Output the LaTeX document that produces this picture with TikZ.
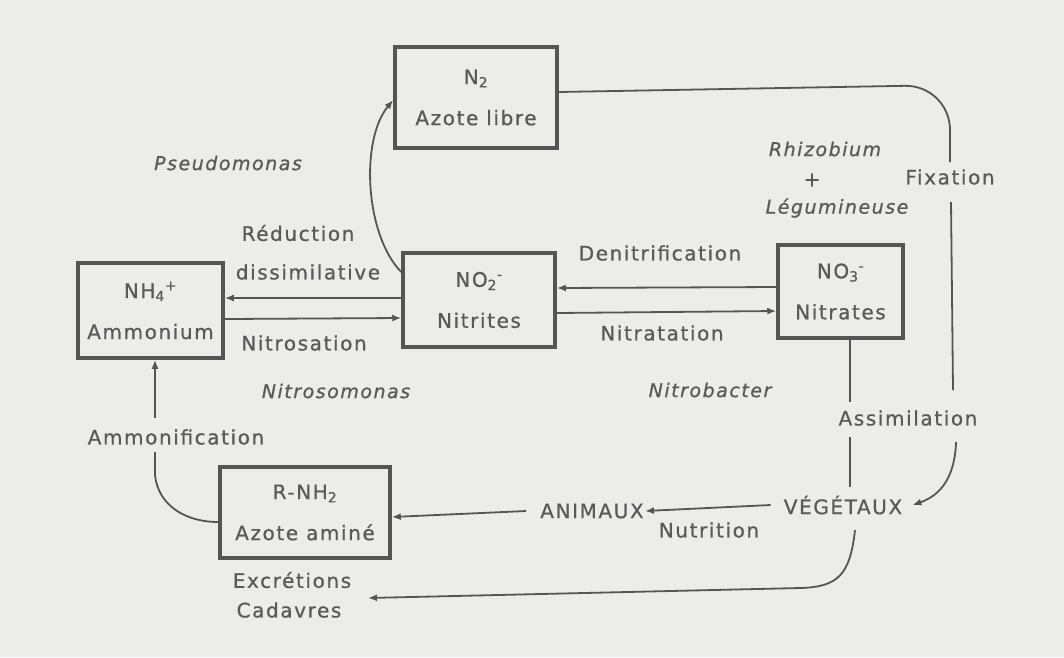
\documentclass[tikz,border=0pt]{standalone}
\usepackage{fontspec}
\setmainfont{DejaVu Sans}[LetterSpace=8, FakeBold=0.8]
\usetikzlibrary{arrows.meta}
\definecolor{bgc}{HTML}{ECECEA}
\definecolor{linec}{HTML}{555555}
\definecolor{txtc}{HTML}{5A5A5A}
\tikzset{
  boxn/.style={draw=linec, line width=3.5pt, text=txtc, align=center, inner sep=0pt,
    font=\fontsize{20}{41}\selectfont},
  lbl/.style={text=txtc, inner sep=1pt, font=\fontsize{20}{23}\selectfont},
  itl/.style={text=txtc, inner sep=1pt, font=\fontsize{19}{23}\selectfont\itshape},
  ln/.style={draw=linec, line width=1.8pt},
  arr/.style={draw=linec, line width=1.8pt, -{Latex[length=9pt,width=7pt]}},
}
\begin{document}
\begin{tikzpicture}[x=1pt,y=-1pt]
\fill[bgc] (0,0) rectangle (1064,657);
\useasboundingbox (0,0) rectangle (1064,657);

% boxes
\node[boxn, minimum width=162pt, minimum height=101pt] (n2) at (476,97.5) {N\textsubscript{2}\\Azote libre};
\node[boxn, minimum width=145pt, minimum height=95pt] (nh4) at (150.5,310.5) {NH\textsubscript{4}\textsuperscript{+}\\Ammonium};
\node[boxn, minimum width=152pt, minimum height=94pt] (no2) at (479,300) {NO\textsubscript{2}\textsuperscript{-}\\Nitrites};
\node[boxn, minimum width=125pt, minimum height=93pt] (no3) at (840.5,291.5) {NO\textsubscript{3}\textsuperscript{-}\\Nitrates};
\node[boxn, minimum width=170pt, minimum height=91pt] (rnh2) at (305,512.5) {R-NH\textsubscript{2}\\Azote aminé};

% labels
\node[itl] (pseudo) at (228,163) {Pseudomonas};
\node[lbl] (reduc) at (298,233) {Réduction};
\node[lbl] (dissim) at (308,272) {dissimilative};
\node[lbl] (nitros) at (304,343) {Nitrosation};
\node[itl] (nitrosomonas) at (336,391) {Nitrosomonas};
\node[lbl] (denit) at (660,253) {Denitrification};
\node[lbl] (nitrat) at (662,333) {Nitratation};
\node[itl] (nitrobacter) at (710,390) {Nitrobacter};
\node[itl] (rhizo) at (825,149) {Rhizobium};
\node[lbl] (plus) at (812,180) {+};
\node[itl] (legum) at (837,208) {Légumineuse};
\node[lbl] (fix) at (950,177) {Fixation};
\node[lbl] (assim) at (908,418) {Assimilation};
\node[lbl, inner sep=0pt] (vege) at (843,505) {VÉGÉTAUX};
\node[lbl, inner sep=0pt] (animaux) at (592,511) {ANIMAUX};
\node[lbl] (nutri) at (709,530) {Nutrition};
\node[lbl] (ammonif) at (176,437) {Ammonification};
\node[lbl] (excr) at (292,580) {Excrétions};
\node[lbl] (cadav) at (289,610) {Cadavres};

% coordinates for free ends / breaks
\coordinate (fixA) at (950,162);
\coordinate (fixB) at (951,202);
\coordinate (fixC) at (953,390);
\coordinate (fixD) at (956,442);
\coordinate (assA) at (850,402);
\coordinate (assB) at (850,437);
\coordinate (assC) at (850,487);
\coordinate (ammA) at (155,418);
\coordinate (ammB) at (155,452);
\coordinate (vegS) at (855,530);
\coordinate (excrE) at (368,598);

% horizontal exchanges
\draw[arr] (no2.west |- 0,298) -- (nh4.east |- 0,298);
\draw[arr] (nh4.east |- 0,319) -- (no2.west |- 0,318);
\draw[arr] (no3.west |- 0,287) -- (no2.east |- 0,288);
\draw[arr] (no2.east |- 0,313) -- (no3.west |- 0,311);

% NO2 -> N2
\draw[arr] (no2.west |- 0,272) .. controls (365,235) and (360,140) .. (n2.west |- 0,100);

% fixation
\draw[ln, rounded corners=45pt] (n2.east |- 0,92) -- (950,85) -- (fixA);
\draw[ln] (fixB) -- (fixC);
\draw[arr] (fixD) .. controls (955,475) and (942,495) .. ([xshift=10pt]vege.east);

% assimilation
\draw[ln] (no3.south -| assA) -- (assA);
\draw[ln] (assB) -- (assC);

% nutrition
\draw[arr] ([xshift=-13pt]vege.west) -- ([xshift=1pt]animaux.east);
\draw[arr] ([xshift=-14pt]animaux.west) -- (rnh2.east |- 0,517);

% excretions
\draw[arr] (vegS) .. controls (850,575) and (838,587) .. (800,588) -- (excrE);

% ammonification
\draw[arr] (ammA) -- (nh4.south -| ammA);
\draw[ln] (ammB) -- (155,475) .. controls (158,505) and (185,522) .. (rnh2.west |- 0,522);
\end{tikzpicture}
\end{document}
